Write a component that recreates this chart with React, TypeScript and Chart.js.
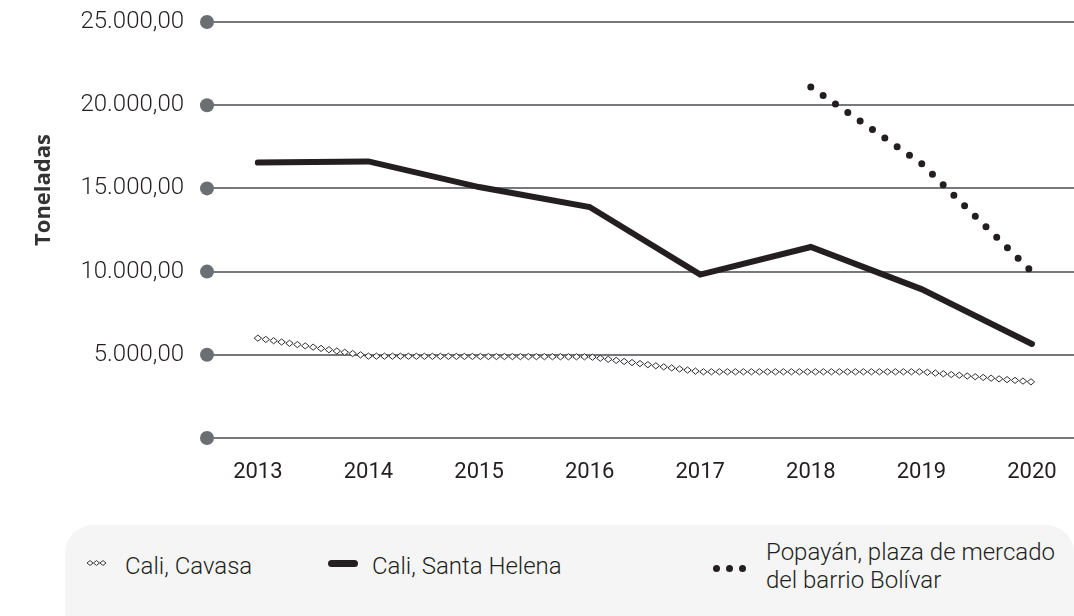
import React, { useEffect, useRef } from 'react';
import { Chart, registerables } from 'chart.js';

Chart.register(...registerables);

const years = ['2013', '2014', '2015', '2016', '2017', '2018', '2019', '2020'];
const caliCavasa = [6000, 4920, 4900, 4880, 3980, 3980, 3980, 3370];
const caliSantaHelena = [16550, 16620, 15080, 13880, 9820, 11480, 8950, 5650];
const popayanBolivar: (number | null)[] = [null, null, null, null, null, 21100, 16500, 9980];
const yTickValues = [0, 5000, 10000, 15000, 20000, 25000];
const yTickLabels = ['', '5.000,00', '10.000,00', '15.000,00', '20.000,00', '25.000,00'];
const seriesNames = ['Cali, Cavasa', 'Cali, Santa Helena', 'Popayán, plaza de mercado', 'del barrio Bolívar'];
const yAxisTitle = 'Toneladas';

const FONT = 'Roboto, "Liberation Sans", sans-serif';
const INK = '#231f20';
const GRID = '#77787b';
const DOT = '#6d6e71';

const toPoints = (arr: (number | null)[]) =>
  arr.map((v, i) => ({ x: i, y: v })).filter((p) => p.y !== null);

const diamondPlugin = {
  id: 'diamondLine',
  afterDatasetsDraw(chart: any) {
    const meta = chart.getDatasetMeta(0);
    const pts = meta.data.map((p: any) => ({ x: p.x, y: p.y }));
    const ctx = chart.ctx;
    ctx.save();
    ctx.strokeStyle = '#2f2f2f';
    ctx.fillStyle = '#ffffff';
    ctx.lineWidth = 1;
    const step = 8;
    const hw = 3.7;
    const hh = 3.1;
    const draw = (x: number, y: number) => {
      ctx.beginPath();
      ctx.moveTo(x - hw, y);
      ctx.lineTo(x, y - hh);
      ctx.lineTo(x + hw, y);
      ctx.lineTo(x, y + hh);
      ctx.closePath();
      ctx.fill();
      ctx.stroke();
    };
    let carry = 0;
    for (let i = 0; i < pts.length - 1; i++) {
      const a = pts[i];
      const b = pts[i + 1];
      const len = Math.hypot(b.x - a.x, b.y - a.y);
      let d = carry;
      while (d <= len) {
        const t = d / len;
        draw(a.x + (b.x - a.x) * t, a.y + (b.y - a.y) * t);
        d += step;
      }
      carry = d - len;
    }
    ctx.restore();
  },
};

const dotsPlugin = {
  id: 'axisDots',
  beforeDatasetsDraw(chart: any) {
    const ctx = chart.ctx;
    const ys = chart.scales.y;
    ctx.save();
    ctx.fillStyle = DOT;
    yTickValues.forEach((v) => {
      ctx.beginPath();
      ctx.arc(chart.chartArea.left, ys.getPixelForValue(v), 7, 0, Math.PI * 2);
      ctx.fill();
    });
    ctx.restore();
  },
};

const titlePlugin = {
  id: 'yTitle',
  afterDraw(chart: any) {
    const ctx = chart.ctx;
    ctx.save();
    ctx.translate(44, 190);
    ctx.rotate(-Math.PI / 2);
    ctx.font = 'bold 22px "Open Sans", sans-serif';
    ctx.fillStyle = '#333333';
    ctx.textAlign = 'center';
    ctx.textBaseline = 'middle';
    ctx.fillText(yAxisTitle, 0, 0);
    ctx.restore();
  },
};

function CavasaMarker() {
  return (
    <svg width="22" height="10" style={{ display: 'block' }}>
      {[0, 1, 2].map((i) => (
        <path
          key={i}
          d={`M ${3 + i * 6.5} 5 L ${6 + i * 6.5} 2.6 L ${9 + i * 6.5} 5 L ${6 + i * 6.5} 7.4 Z`}
          fill="#fff"
          stroke="#3a3a3a"
          strokeWidth="1"
        />
      ))}
    </svg>
  );
}

export default function App() {
  const canvasRef = useRef<HTMLCanvasElement | null>(null);

  useEffect(() => {
    const canvas = canvasRef.current;
    if (!canvas) return;
    const chart = new Chart(canvas, {
      type: 'line',
      data: {
        datasets: [
          {
            label: seriesNames[0],
            data: toPoints(caliCavasa),
            borderColor: 'rgba(0,0,0,0)',
            borderWidth: 0,
            pointRadius: 0,
          },
          {
            label: seriesNames[1],
            data: toPoints(caliSantaHelena),
            borderColor: INK,
            borderWidth: 6,
            borderCapStyle: 'round',
            borderJoinStyle: 'miter',
            pointRadius: 0,
            tension: 0,
          },
          {
            label: seriesNames[2] + ' ' + seriesNames[3],
            data: toPoints(popayanBolivar),
            borderColor: INK,
            borderWidth: 7,
            borderDash: [0, 15],
            borderCapStyle: 'round',
            pointRadius: 0,
            tension: 0,
          },
        ],
      },
      options: {
        responsive: false,
        animation: false,
        layout: { padding: { top: 22, left: 0, right: 0, bottom: 0 } },
        plugins: { legend: { display: false }, tooltip: { enabled: false }, title: { display: false } },
        scales: {
          x: {
            type: 'linear',
            min: -0.46,
            max: 7.38,
            afterBuildTicks: (s: any) => {
              s.ticks = years.map((_, i) => ({ value: i }));
            },
            afterFit: (s: any) => {
              s.height = 62;
              s.paddingLeft = 0;
              s.paddingRight = 0;
            },
            ticks: {
              padding: 21,
              autoSkip: false,
              maxRotation: 0,
              font: { family: FONT, size: 22, weight: '400' },
              color: INK,
              callback: (v: any) => years[v as number] ?? '',
            },
            grid: { display: false, drawTicks: false },
            border: { display: false },
          },
          y: {
            min: 0,
            max: 25000,
            afterBuildTicks: (s: any) => {
              s.ticks = yTickValues.map((v) => ({ value: v }));
            },
            afterFit: (s: any) => {
              s.width = 207;
              s.paddingTop = 0;
              s.paddingBottom = 0;
            },
            ticks: {
              padding: 23,
              font: { family: FONT, size: 24, weight: '300' },
              color: INK,
              callback: (v: any) => yTickLabels[yTickValues.indexOf(v as number)] ?? '',
            },
            grid: { color: GRID, lineWidth: 2, drawTicks: false },
            border: { display: false },
          },
        },
      },
      plugins: [dotsPlugin, diamondPlugin, titlePlugin],
    } as any);
    return () => chart.destroy();
  }, []);

  const textStyle: React.CSSProperties = {
    position: 'absolute',
    fontFamily: FONT,
    fontWeight: 300,
    fontSize: 24,
    color: INK,
    lineHeight: '28px',
    whiteSpace: 'nowrap',
  };

  return (
    <div
      style={{
        position: 'absolute',
        left: 0,
        top: 0,
        width: 1074,
        height: 616,
        overflow: 'hidden',
        background: '#ffffff',
      }}
    >
      <canvas ref={canvasRef} width={1074} height={500} style={{ position: 'absolute', left: 0, top: 0 }} />
      <div
        style={{
          position: 'absolute',
          left: 65,
          top: 525,
          width: 1009,
          height: 130,
          background: '#f5f5f5',
          borderRadius: 28,
        }}
      />
      <div style={{ position: 'absolute', left: 84, top: 558 }}>
        <CavasaMarker />
      </div>
      <div style={{ ...textStyle, left: 125, top: 552 }}>{seriesNames[0]}</div>
      <div
        style={{
          position: 'absolute',
          left: 328,
          top: 560,
          width: 30,
          height: 7,
          borderRadius: 4,
          background: INK,
        }}
      />
      <div style={{ ...textStyle, left: 372, top: 552 }}>{seriesNames[1]}</div>
      {[0, 1, 2].map((i) => (
        <div
          key={i}
          style={{
            position: 'absolute',
            left: 713 + i * 13,
            top: 565,
            width: 7,
            height: 7,
            borderRadius: '50%',
            background: INK,
          }}
        />
      ))}
      <div style={{ ...textStyle, left: 766, top: 538 }}>
        {seriesNames[2]}
        <br />
        {seriesNames[3]}
      </div>
    </div>
  );
}
